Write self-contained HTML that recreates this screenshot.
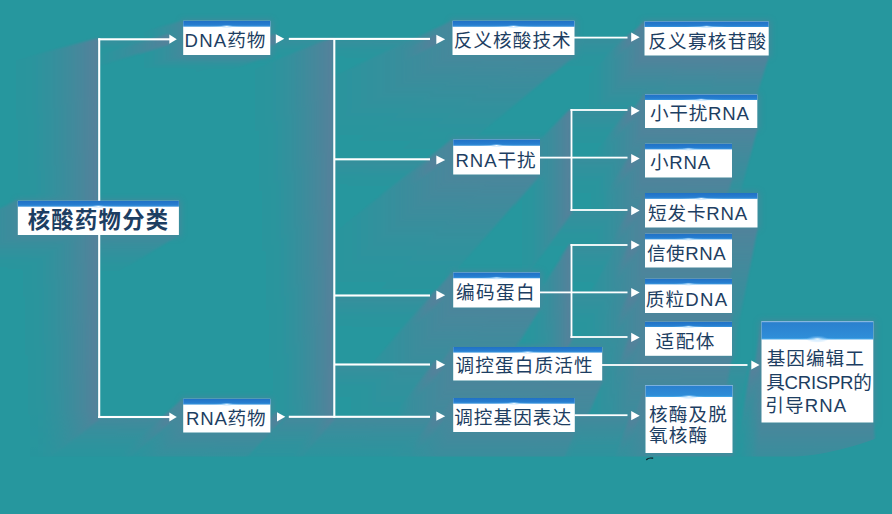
<!DOCTYPE html>
<html lang="zh-CN"><head><meta charset="utf-8"><title>核酸药物分类</title>
<style>
html,body{margin:0;padding:0}
body{width:892px;height:514px;overflow:hidden;background:#26979e;position:relative;font-family:"Liberation Sans",sans-serif}
#art{position:absolute;left:0;top:0;display:block}
.node{position:absolute;margin:0;overflow:hidden;color:transparent;white-space:nowrap;font-family:"Liberation Sans",sans-serif;font-size:18px;line-height:23px}
.node span{display:block}

</style></head><body>
<svg id="art" width="892" height="514" viewBox="0 0 892 514">
<defs>
<linearGradient id="sb35g18"><stop offset="0.0" stop-color="#595959"/><stop offset="0.1" stop-color="#4a4a4a"/><stop offset="0.2" stop-color="#3c3c3c"/><stop offset="0.3" stop-color="#2f2f2f"/><stop offset="0.4" stop-color="#242424"/><stop offset="0.5" stop-color="#1a1a1a"/><stop offset="0.6" stop-color="#111111"/><stop offset="0.7" stop-color="#0a0a0a"/><stop offset="0.8" stop-color="#050505"/><stop offset="0.9" stop-color="#010101"/><stop offset="1.0" stop-color="#000000"/></linearGradient>
<linearGradient id="sb50g13"><stop offset="0.0" stop-color="#808080"/><stop offset="0.1" stop-color="#6f6f6f"/><stop offset="0.2" stop-color="#5f5f5f"/><stop offset="0.3" stop-color="#505050"/><stop offset="0.4" stop-color="#424242"/><stop offset="0.5" stop-color="#343434"/><stop offset="0.6" stop-color="#272727"/><stop offset="0.7" stop-color="#1b1b1b"/><stop offset="0.8" stop-color="#101010"/><stop offset="0.9" stop-color="#060606"/><stop offset="1.0" stop-color="#000000"/></linearGradient>
<linearGradient id="sb55g13"><stop offset="0.0" stop-color="#8c8c8c"/><stop offset="0.1" stop-color="#7a7a7a"/><stop offset="0.2" stop-color="#696969"/><stop offset="0.3" stop-color="#585858"/><stop offset="0.4" stop-color="#484848"/><stop offset="0.5" stop-color="#393939"/><stop offset="0.6" stop-color="#2b2b2b"/><stop offset="0.7" stop-color="#1d1d1d"/><stop offset="0.8" stop-color="#111111"/><stop offset="0.9" stop-color="#070707"/><stop offset="1.0" stop-color="#000000"/></linearGradient>
<linearGradient id="sb60g13"><stop offset="0.0" stop-color="#999999"/><stop offset="0.1" stop-color="#858585"/><stop offset="0.2" stop-color="#727272"/><stop offset="0.3" stop-color="#606060"/><stop offset="0.4" stop-color="#4f4f4f"/><stop offset="0.5" stop-color="#3e3e3e"/><stop offset="0.6" stop-color="#2e2e2e"/><stop offset="0.7" stop-color="#202020"/><stop offset="0.8" stop-color="#131313"/><stop offset="0.9" stop-color="#080808"/><stop offset="1.0" stop-color="#000000"/></linearGradient>
<linearGradient id="sb60g18"><stop offset="0.0" stop-color="#999999"/><stop offset="0.1" stop-color="#7f7f7f"/><stop offset="0.2" stop-color="#666666"/><stop offset="0.3" stop-color="#515151"/><stop offset="0.4" stop-color="#3d3d3d"/><stop offset="0.5" stop-color="#2c2c2c"/><stop offset="0.6" stop-color="#1d1d1d"/><stop offset="0.7" stop-color="#121212"/><stop offset="0.8" stop-color="#080808"/><stop offset="0.9" stop-color="#020202"/><stop offset="1.0" stop-color="#000000"/></linearGradient>
<linearGradient id="sb70g13"><stop offset="0.0" stop-color="#b2b2b2"/><stop offset="0.1" stop-color="#9c9c9c"/><stop offset="0.2" stop-color="#868686"/><stop offset="0.3" stop-color="#707070"/><stop offset="0.4" stop-color="#5c5c5c"/><stop offset="0.5" stop-color="#484848"/><stop offset="0.6" stop-color="#363636"/><stop offset="0.7" stop-color="#252525"/><stop offset="0.8" stop-color="#161616"/><stop offset="0.9" stop-color="#090909"/><stop offset="1.0" stop-color="#000000"/></linearGradient>
<linearGradient id="sb75g13"><stop offset="0.0" stop-color="#bfbfbf"/><stop offset="0.1" stop-color="#a7a7a7"/><stop offset="0.2" stop-color="#8f8f8f"/><stop offset="0.3" stop-color="#787878"/><stop offset="0.4" stop-color="#626262"/><stop offset="0.5" stop-color="#4e4e4e"/><stop offset="0.6" stop-color="#3a3a3a"/><stop offset="0.7" stop-color="#282828"/><stop offset="0.8" stop-color="#181818"/><stop offset="0.9" stop-color="#0a0a0a"/><stop offset="1.0" stop-color="#000000"/></linearGradient>
<linearGradient id="sb80g13"><stop offset="0.0" stop-color="#cccccc"/><stop offset="0.1" stop-color="#b2b2b2"/><stop offset="0.2" stop-color="#999999"/><stop offset="0.3" stop-color="#808080"/><stop offset="0.4" stop-color="#696969"/><stop offset="0.5" stop-color="#535353"/><stop offset="0.6" stop-color="#3e3e3e"/><stop offset="0.7" stop-color="#2b2b2b"/><stop offset="0.8" stop-color="#191919"/><stop offset="0.9" stop-color="#0a0a0a"/><stop offset="1.0" stop-color="#000000"/></linearGradient>
<linearGradient id="sb85g13"><stop offset="0.0" stop-color="#d9d9d9"/><stop offset="0.1" stop-color="#bdbdbd"/><stop offset="0.2" stop-color="#a2a2a2"/><stop offset="0.3" stop-color="#888888"/><stop offset="0.4" stop-color="#707070"/><stop offset="0.5" stop-color="#585858"/><stop offset="0.6" stop-color="#424242"/><stop offset="0.7" stop-color="#2d2d2d"/><stop offset="0.8" stop-color="#1b1b1b"/><stop offset="0.9" stop-color="#0b0b0b"/><stop offset="1.0" stop-color="#000000"/></linearGradient>
<linearGradient id="sb90g18"><stop offset="0.0" stop-color="#e6e6e6"/><stop offset="0.1" stop-color="#bebebe"/><stop offset="0.2" stop-color="#9a9a9a"/><stop offset="0.3" stop-color="#797979"/><stop offset="0.4" stop-color="#5c5c5c"/><stop offset="0.5" stop-color="#424242"/><stop offset="0.6" stop-color="#2c2c2c"/><stop offset="0.7" stop-color="#1a1a1a"/><stop offset="0.8" stop-color="#0d0d0d"/><stop offset="0.9" stop-color="#040404"/><stop offset="1.0" stop-color="#000000"/></linearGradient>
<linearGradient id="sg0" gradientUnits="userSpaceOnUse" x1="44.6" y1="235.0" x2="44.6" y2="270.8" href="#sb50g13"/>
<linearGradient id="sg1" gradientUnits="userSpaceOnUse" x1="98.3" y1="235.0" x2="98.3" y2="272.8" href="#sb50g13"/>
<linearGradient id="sg2" gradientUnits="userSpaceOnUse" x1="152.1" y1="235.0" x2="152.1" y2="275.1" href="#sb50g13"/>
<linearGradient id="sg3" gradientUnits="userSpaceOnUse" x1="17.8" y1="217.9" x2="-54.8" y2="217.9" href="#sb50g13"/>
<linearGradient id="sg4" gradientUnits="userSpaceOnUse" x1="205.0" y1="55.0" x2="205.0" y2="69.5" href="#sb55g13"/>
<linearGradient id="sg5" gradientUnits="userSpaceOnUse" x1="248.5" y1="55.0" x2="248.5" y2="70.5" href="#sb55g13"/>
<linearGradient id="sg6" gradientUnits="userSpaceOnUse" x1="183.2" y1="37.9" x2="140.1" y2="37.9" href="#sb55g13"/>
<linearGradient id="sg7" gradientUnits="userSpaceOnUse" x1="205.0" y1="432.5" x2="205.0" y2="494.2" href="#sb70g13"/>
<linearGradient id="sg8" gradientUnits="userSpaceOnUse" x1="248.6" y1="432.5" x2="248.6" y2="496.5" href="#sb70g13"/>
<linearGradient id="sg9" gradientUnits="userSpaceOnUse" x1="183.2" y1="415.6" x2="115.7" y2="415.6" href="#sb70g13"/>
<linearGradient id="sg10" gradientUnits="userSpaceOnUse" x1="472.8" y1="55.0" x2="472.8" y2="141.8" href="#sb60g13"/>
<linearGradient id="sg11" gradientUnits="userSpaceOnUse" x1="513.5" y1="55.0" x2="513.5" y2="149.5" href="#sb60g13"/>
<linearGradient id="sg12" gradientUnits="userSpaceOnUse" x1="554.2" y1="55.0" x2="554.2" y2="158.3" href="#sb60g13"/>
<linearGradient id="sg13" gradientUnits="userSpaceOnUse" x1="452.5" y1="37.9" x2="301.5" y2="37.9" href="#sb60g13"/>
<linearGradient id="sg14" gradientUnits="userSpaceOnUse" x1="474.9" y1="174.5" x2="474.9" y2="290.2" href="#sb70g13"/>
<linearGradient id="sg15" gradientUnits="userSpaceOnUse" x1="518.3" y1="174.5" x2="518.3" y2="297.9" href="#sb70g13"/>
<linearGradient id="sg16" gradientUnits="userSpaceOnUse" x1="453.2" y1="157.0" x2="322.4" y2="157.0" href="#sb70g13"/>
<linearGradient id="sg17" gradientUnits="userSpaceOnUse" x1="474.9" y1="307.5" x2="474.9" y2="442.2" href="#sb70g13"/>
<linearGradient id="sg18" gradientUnits="userSpaceOnUse" x1="518.3" y1="307.5" x2="518.3" y2="448.2" href="#sb70g13"/>
<linearGradient id="sg19" gradientUnits="userSpaceOnUse" x1="453.2" y1="290.0" x2="343.2" y2="290.0" href="#sb70g13"/>
<linearGradient id="sg20" gradientUnits="userSpaceOnUse" x1="478.0" y1="380.5" x2="478.0" y2="522.4" href="#sb70g13"/>
<linearGradient id="sg21" gradientUnits="userSpaceOnUse" x1="527.7" y1="380.5" x2="527.7" y2="528.3" href="#sb70g13"/>
<linearGradient id="sg22" gradientUnits="userSpaceOnUse" x1="577.4" y1="380.5" x2="577.4" y2="534.0" href="#sb70g13"/>
<linearGradient id="sg23" gradientUnits="userSpaceOnUse" x1="453.2" y1="363.8" x2="353.1" y2="363.8" href="#sb70g13"/>
<linearGradient id="sg24" gradientUnits="userSpaceOnUse" x1="473.5" y1="432.0" x2="473.5" y2="577.1" href="#sb70g13"/>
<linearGradient id="sg25" gradientUnits="userSpaceOnUse" x1="514.0" y1="432.0" x2="514.0" y2="581.4" href="#sb70g13"/>
<linearGradient id="sg26" gradientUnits="userSpaceOnUse" x1="554.5" y1="432.0" x2="554.5" y2="585.6" href="#sb70g13"/>
<linearGradient id="sg27" gradientUnits="userSpaceOnUse" x1="453.2" y1="415.0" x2="359.2" y2="415.0" href="#sb70g13"/>
<linearGradient id="sg28" gradientUnits="userSpaceOnUse" x1="665.2" y1="55.5" x2="665.2" y2="122.3" href="#sb85g13"/>
<linearGradient id="sg29" gradientUnits="userSpaceOnUse" x1="706.6" y1="55.5" x2="706.6" y2="128.5" href="#sb85g13"/>
<linearGradient id="sg30" gradientUnits="userSpaceOnUse" x1="748.0" y1="55.5" x2="748.0" y2="134.3" href="#sb85g13"/>
<linearGradient id="sg31" gradientUnits="userSpaceOnUse" x1="644.5" y1="38.5" x2="585.6" y2="38.5" href="#sb85g13"/>
<linearGradient id="sg32" gradientUnits="userSpaceOnUse" x1="673.1" y1="128.0" x2="673.1" y2="215.2" href="#sb80g13"/>
<linearGradient id="sg33" gradientUnits="userSpaceOnUse" x1="729.2" y1="128.0" x2="729.2" y2="221.9" href="#sb80g13"/>
<linearGradient id="sg34" gradientUnits="userSpaceOnUse" x1="645.0" y1="111.2" x2="587.6" y2="111.2" href="#sb80g13"/>
<linearGradient id="sg35" gradientUnits="userSpaceOnUse" x1="666.8" y1="177.5" x2="666.8" y2="284.9" href="#sb80g13"/>
<linearGradient id="sg36" gradientUnits="userSpaceOnUse" x1="710.2" y1="177.5" x2="710.2" y2="290.1" href="#sb80g13"/>
<linearGradient id="sg37" gradientUnits="userSpaceOnUse" x1="645.0" y1="160.7" x2="583.8" y2="160.7" href="#sb80g13"/>
<linearGradient id="sg38" gradientUnits="userSpaceOnUse" x1="673.1" y1="227.5" x2="673.1" y2="365.9" href="#sb80g13"/>
<linearGradient id="sg39" gradientUnits="userSpaceOnUse" x1="729.4" y1="227.5" x2="729.4" y2="372.2" href="#sb80g13"/>
<linearGradient id="sg40" gradientUnits="userSpaceOnUse" x1="645.0" y1="210.2" x2="576.5" y2="210.2" href="#sb80g13"/>
<linearGradient id="sg41" gradientUnits="userSpaceOnUse" x1="666.8" y1="267.5" x2="666.8" y2="425.7" href="#sb75g13"/>
<linearGradient id="sg42" gradientUnits="userSpaceOnUse" x1="710.2" y1="267.5" x2="710.2" y2="430.7" href="#sb75g13"/>
<linearGradient id="sg43" gradientUnits="userSpaceOnUse" x1="645.0" y1="250.7" x2="573.6" y2="250.7" href="#sb75g13"/>
<linearGradient id="sg44" gradientUnits="userSpaceOnUse" x1="666.8" y1="313.0" x2="666.8" y2="473.2" href="#sb75g13"/>
<linearGradient id="sg45" gradientUnits="userSpaceOnUse" x1="710.2" y1="313.0" x2="710.2" y2="477.4" href="#sb75g13"/>
<linearGradient id="sg46" gradientUnits="userSpaceOnUse" x1="645.0" y1="295.9" x2="579.6" y2="295.9" href="#sb75g13"/>
<linearGradient id="sg47" gradientUnits="userSpaceOnUse" x1="666.8" y1="355.8" x2="666.8" y2="517.4" href="#sb75g13"/>
<linearGradient id="sg48" gradientUnits="userSpaceOnUse" x1="710.2" y1="355.8" x2="710.2" y2="521.0" href="#sb75g13"/>
<linearGradient id="sg49" gradientUnits="userSpaceOnUse" x1="645.0" y1="338.8" x2="584.5" y2="338.8" href="#sb75g13"/>
<linearGradient id="sg50" gradientUnits="userSpaceOnUse" x1="667.2" y1="453.0" x2="667.2" y2="617.0" href="#sb75g13"/>
<linearGradient id="sg51" gradientUnits="userSpaceOnUse" x1="710.8" y1="453.0" x2="710.8" y2="619.6" href="#sb75g13"/>
<linearGradient id="sg52" gradientUnits="userSpaceOnUse" x1="645.5" y1="402.0" x2="591.2" y2="402.0" href="#sb75g13"/>
<linearGradient id="sg53" gradientUnits="userSpaceOnUse" x1="645.5" y1="436.0" x2="594.0" y2="436.0" href="#sb75g13"/>
<linearGradient id="sg54" gradientUnits="userSpaceOnUse" x1="789.5" y1="422.5" x2="789.5" y2="592.0" href="#sb75g13"/>
<linearGradient id="sg55" gradientUnits="userSpaceOnUse" x1="845.3" y1="422.5" x2="845.3" y2="592.5" href="#sb75g13"/>
<linearGradient id="sg56" gradientUnits="userSpaceOnUse" x1="761.5" y1="346.6" x2="737.1" y2="346.6" href="#sb75g13"/>
<linearGradient id="sg57" gradientUnits="userSpaceOnUse" x1="761.5" y1="397.2" x2="739.3" y2="397.2" href="#sb75g13"/>
<linearGradient id="sg58" gradientUnits="userSpaceOnUse" x1="99.2" y1="418.0" x2="99.2" y2="478.5" href="#sb90g18"/>
<linearGradient id="sg59" gradientUnits="userSpaceOnUse" x1="98.2" y1="65.4" x2="4.4" y2="65.4" href="#sb90g18"/>
<linearGradient id="sg60" gradientUnits="userSpaceOnUse" x1="98.2" y1="119.7" x2="6.5" y2="119.7" href="#sb90g18"/>
<linearGradient id="sg61" gradientUnits="userSpaceOnUse" x1="98.2" y1="173.9" x2="8.9" y2="173.9" href="#sb90g18"/>
<linearGradient id="sg62" gradientUnits="userSpaceOnUse" x1="98.2" y1="228.1" x2="11.4" y2="228.1" href="#sb90g18"/>
<linearGradient id="sg63" gradientUnits="userSpaceOnUse" x1="98.2" y1="282.4" x2="14.1" y2="282.4" href="#sb90g18"/>
<linearGradient id="sg64" gradientUnits="userSpaceOnUse" x1="98.2" y1="336.6" x2="16.9" y2="336.6" href="#sb90g18"/>
<linearGradient id="sg65" gradientUnits="userSpaceOnUse" x1="98.2" y1="390.9" x2="19.7" y2="390.9" href="#sb90g18"/>
<linearGradient id="sg66" gradientUnits="userSpaceOnUse" x1="116.3" y1="40.3" x2="116.3" y2="55.1" href="#sb35g18"/>
<linearGradient id="sg67" gradientUnits="userSpaceOnUse" x1="152.4" y1="40.3" x2="152.4" y2="55.8" href="#sb35g18"/>
<linearGradient id="sg68" gradientUnits="userSpaceOnUse" x1="98.2" y1="39.3" x2="45.1" y2="39.3" href="#sb35g18"/>
<linearGradient id="sg69" gradientUnits="userSpaceOnUse" x1="116.3" y1="418.1" x2="116.3" y2="477.6" href="#sb60g18"/>
<linearGradient id="sg70" gradientUnits="userSpaceOnUse" x1="152.4" y1="418.1" x2="152.4" y2="479.4" href="#sb60g18"/>
<linearGradient id="sg71" gradientUnits="userSpaceOnUse" x1="98.2" y1="417.0" x2="23.4" y2="417.0" href="#sb60g18"/>
<linearGradient id="sg72" gradientUnits="userSpaceOnUse" x1="312.3" y1="39.9" x2="312.3" y2="59.6" href="#sb35g18"/>
<linearGradient id="sg73" gradientUnits="userSpaceOnUse" x1="359.4" y1="39.9" x2="359.4" y2="61.3" href="#sb35g18"/>
<linearGradient id="sg74" gradientUnits="userSpaceOnUse" x1="406.5" y1="39.9" x2="406.5" y2="63.2" href="#sb35g18"/>
<linearGradient id="sg75" gradientUnits="userSpaceOnUse" x1="288.8" y1="38.9" x2="237.1" y2="38.9" href="#sb35g18"/>
<linearGradient id="sg76" gradientUnits="userSpaceOnUse" x1="312.3" y1="417.9" x2="312.3" y2="488.3" href="#sb60g18"/>
<linearGradient id="sg77" gradientUnits="userSpaceOnUse" x1="359.4" y1="417.9" x2="359.4" y2="491.2" href="#sb60g18"/>
<linearGradient id="sg78" gradientUnits="userSpaceOnUse" x1="406.5" y1="417.9" x2="406.5" y2="494.2" href="#sb60g18"/>
<linearGradient id="sg79" gradientUnits="userSpaceOnUse" x1="288.8" y1="416.8" x2="223.5" y2="416.8" href="#sb60g18"/>
<linearGradient id="sg80" gradientUnits="userSpaceOnUse" x1="334.3" y1="417.8" x2="334.3" y2="491.9" href="#sb90g18"/>
<linearGradient id="sg81" gradientUnits="userSpaceOnUse" x1="333.2" y1="65.1" x2="243.8" y2="65.1" href="#sb90g18"/>
<linearGradient id="sg82" gradientUnits="userSpaceOnUse" x1="333.2" y1="119.4" x2="247.6" y2="119.4" href="#sb90g18"/>
<linearGradient id="sg83" gradientUnits="userSpaceOnUse" x1="333.2" y1="173.6" x2="251.6" y2="173.6" href="#sb90g18"/>
<linearGradient id="sg84" gradientUnits="userSpaceOnUse" x1="333.2" y1="227.9" x2="255.7" y2="227.9" href="#sb90g18"/>
<linearGradient id="sg85" gradientUnits="userSpaceOnUse" x1="333.2" y1="282.2" x2="259.7" y2="282.2" href="#sb90g18"/>
<linearGradient id="sg86" gradientUnits="userSpaceOnUse" x1="333.2" y1="336.4" x2="263.6" y2="336.4" href="#sb90g18"/>
<linearGradient id="sg87" gradientUnits="userSpaceOnUse" x1="333.2" y1="390.7" x2="267.2" y2="390.7" href="#sb90g18"/>
<linearGradient id="sg88" gradientUnits="userSpaceOnUse" x1="358.2" y1="160.4" x2="358.2" y2="191.0" href="#sb35g18"/>
<linearGradient id="sg89" gradientUnits="userSpaceOnUse" x1="406.1" y1="160.4" x2="406.1" y2="193.3" href="#sb35g18"/>
<linearGradient id="sg90" gradientUnits="userSpaceOnUse" x1="334.3" y1="159.3" x2="287.9" y2="159.3" href="#sb35g18"/>
<linearGradient id="sg91" gradientUnits="userSpaceOnUse" x1="358.2" y1="296.6" x2="358.2" y2="334.6" href="#sb35g18"/>
<linearGradient id="sg92" gradientUnits="userSpaceOnUse" x1="406.1" y1="296.6" x2="406.1" y2="336.6" href="#sb35g18"/>
<linearGradient id="sg93" gradientUnits="userSpaceOnUse" x1="334.3" y1="295.5" x2="293.6" y2="295.5" href="#sb35g18"/>
<linearGradient id="sg94" gradientUnits="userSpaceOnUse" x1="358.2" y1="365.6" x2="358.2" y2="406.3" href="#sb35g18"/>
<linearGradient id="sg95" gradientUnits="userSpaceOnUse" x1="406.1" y1="365.6" x2="406.1" y2="408.2" href="#sb35g18"/>
<linearGradient id="sg96" gradientUnits="userSpaceOnUse" x1="334.3" y1="364.5" x2="296.3" y2="364.5" href="#sb35g18"/>
<linearGradient id="sg97" gradientUnits="userSpaceOnUse" x1="600.8" y1="38.5" x2="600.8" y2="74.1" href="#sb35g18"/>
<linearGradient id="sg98" gradientUnits="userSpaceOnUse" x1="574.0" y1="37.6" x2="530.1" y2="37.6" href="#sb35g18"/>
<linearGradient id="sg99" gradientUnits="userSpaceOnUse" x1="561.9" y1="158.5" x2="561.9" y2="200.3" href="#sb35g18"/>
<linearGradient id="sg100" gradientUnits="userSpaceOnUse" x1="605.6" y1="158.5" x2="605.6" y2="203.1" href="#sb35g18"/>
<linearGradient id="sg101" gradientUnits="userSpaceOnUse" x1="540.0" y1="157.6" x2="502.6" y2="157.6" href="#sb35g18"/>
<linearGradient id="sg102" gradientUnits="userSpaceOnUse" x1="571.5" y1="211.0" x2="571.5" y2="288.9" href="#sb90g18"/>
<linearGradient id="sg103" gradientUnits="userSpaceOnUse" x1="570.6" y1="134.5" x2="515.1" y2="134.5" href="#sb90g18"/>
<linearGradient id="sg104" gradientUnits="userSpaceOnUse" x1="570.6" y1="185.5" x2="515.1" y2="185.5" href="#sb90g18"/>
<linearGradient id="sg105" gradientUnits="userSpaceOnUse" x1="599.0" y1="110.9" x2="599.0" y2="152.4" href="#sb35g18"/>
<linearGradient id="sg106" gradientUnits="userSpaceOnUse" x1="570.5" y1="110.0" x2="532.0" y2="110.0" href="#sb35g18"/>
<linearGradient id="sg107" gradientUnits="userSpaceOnUse" x1="599.0" y1="210.9" x2="599.0" y2="257.3" href="#sb35g18"/>
<linearGradient id="sg108" gradientUnits="userSpaceOnUse" x1="570.5" y1="210.0" x2="538.5" y2="210.0" href="#sb35g18"/>
<linearGradient id="sg109" gradientUnits="userSpaceOnUse" x1="561.9" y1="293.3" x2="561.9" y2="340.4" href="#sb35g18"/>
<linearGradient id="sg110" gradientUnits="userSpaceOnUse" x1="605.6" y1="293.3" x2="605.6" y2="342.4" href="#sb35g18"/>
<linearGradient id="sg111" gradientUnits="userSpaceOnUse" x1="540.0" y1="292.4" x2="510.0" y2="292.4" href="#sb35g18"/>
<linearGradient id="sg112" gradientUnits="userSpaceOnUse" x1="571.5" y1="338.0" x2="571.5" y2="424.6" href="#sb90g18"/>
<linearGradient id="sg113" gradientUnits="userSpaceOnUse" x1="570.6" y1="267.5" x2="519.1" y2="267.5" href="#sb90g18"/>
<linearGradient id="sg114" gradientUnits="userSpaceOnUse" x1="570.6" y1="314.5" x2="522.9" y2="314.5" href="#sb90g18"/>
<linearGradient id="sg115" gradientUnits="userSpaceOnUse" x1="599.0" y1="245.9" x2="599.0" y2="293.4" href="#sb35g18"/>
<linearGradient id="sg116" gradientUnits="userSpaceOnUse" x1="570.5" y1="245.0" x2="540.4" y2="245.0" href="#sb35g18"/>
<linearGradient id="sg117" gradientUnits="userSpaceOnUse" x1="599.0" y1="337.9" x2="599.0" y2="387.6" href="#sb35g18"/>
<linearGradient id="sg118" gradientUnits="userSpaceOnUse" x1="570.5" y1="337.0" x2="544.7" y2="337.0" href="#sb35g18"/>
<linearGradient id="sg119" gradientUnits="userSpaceOnUse" x1="626.2" y1="365.9" x2="626.2" y2="417.0" href="#sb35g18"/>
<linearGradient id="sg120" gradientUnits="userSpaceOnUse" x1="674.8" y1="365.9" x2="674.8" y2="418.5" href="#sb35g18"/>
<linearGradient id="sg121" gradientUnits="userSpaceOnUse" x1="723.2" y1="365.9" x2="723.2" y2="419.7" href="#sb35g18"/>
<linearGradient id="sg122" gradientUnits="userSpaceOnUse" x1="602.0" y1="365.0" x2="579.7" y2="365.0" href="#sb35g18"/>
<linearGradient id="sg123" gradientUnits="userSpaceOnUse" x1="601.0" y1="416.1" x2="601.0" y2="504.1" href="#sb60g18"/>
<linearGradient id="sg124" gradientUnits="userSpaceOnUse" x1="574.5" y1="415.2" x2="535.3" y2="415.2" href="#sb60g18"/>
<linearGradient id="sg125" gradientUnits="userSpaceOnUse" x1="169.3" y1="39.2" x2="75.4" y2="39.2" href="#sb90g18"/>
<linearGradient id="sg126" gradientUnits="userSpaceOnUse" x1="173.1" y1="419.3" x2="181.7" y2="433.3" href="#sb90g18"/>
<linearGradient id="sg127" gradientUnits="userSpaceOnUse" x1="169.3" y1="417.0" x2="95.2" y2="417.0" href="#sb90g18"/>
<linearGradient id="sg128" gradientUnits="userSpaceOnUse" x1="275.8" y1="38.8" x2="183.5" y2="38.8" href="#sb90g18"/>
<linearGradient id="sg129" gradientUnits="userSpaceOnUse" x1="281.1" y1="419.1" x2="295.3" y2="444.6" href="#sb90g18"/>
<linearGradient id="sg130" gradientUnits="userSpaceOnUse" x1="277.0" y1="416.8" x2="208.9" y2="416.8" href="#sb90g18"/>
<linearGradient id="sg131" gradientUnits="userSpaceOnUse" x1="436.3" y1="39.3" x2="352.6" y2="39.3" href="#sb90g18"/>
<linearGradient id="sg132" gradientUnits="userSpaceOnUse" x1="440.8" y1="162.3" x2="450.1" y2="180.3" href="#sb90g18"/>
<linearGradient id="sg133" gradientUnits="userSpaceOnUse" x1="436.3" y1="160.0" x2="359.9" y2="160.0" href="#sb90g18"/>
<linearGradient id="sg134" gradientUnits="userSpaceOnUse" x1="440.8" y1="297.5" x2="457.5" y2="330.0" href="#sb90g18"/>
<linearGradient id="sg135" gradientUnits="userSpaceOnUse" x1="436.3" y1="295.2" x2="371.7" y2="295.2" href="#sb90g18"/>
<linearGradient id="sg136" gradientUnits="userSpaceOnUse" x1="440.8" y1="367.0" x2="460.4" y2="405.0" href="#sb90g18"/>
<linearGradient id="sg137" gradientUnits="userSpaceOnUse" x1="436.3" y1="364.7" x2="377.0" y2="364.7" href="#sb90g18"/>
<linearGradient id="sg138" gradientUnits="userSpaceOnUse" x1="440.8" y1="418.5" x2="462.1" y2="459.9" href="#sb90g18"/>
<linearGradient id="sg139" gradientUnits="userSpaceOnUse" x1="436.3" y1="416.2" x2="380.5" y2="416.2" href="#sb90g18"/>
<linearGradient id="sg140" gradientUnits="userSpaceOnUse" x1="635.5" y1="39.5" x2="643.5" y2="54.4" href="#sb90g18"/>
<linearGradient id="sg141" gradientUnits="userSpaceOnUse" x1="631.2" y1="37.2" x2="588.4" y2="37.2" href="#sb90g18"/>
<linearGradient id="sg142" gradientUnits="userSpaceOnUse" x1="635.5" y1="113.1" x2="650.0" y2="139.9" href="#sb90g18"/>
<linearGradient id="sg143" gradientUnits="userSpaceOnUse" x1="631.2" y1="110.8" x2="588.4" y2="110.8" href="#sb90g18"/>
<linearGradient id="sg144" gradientUnits="userSpaceOnUse" x1="635.5" y1="160.9" x2="654.2" y2="195.5" href="#sb90g18"/>
<linearGradient id="sg145" gradientUnits="userSpaceOnUse" x1="631.2" y1="158.6" x2="588.4" y2="158.6" href="#sb90g18"/>
<linearGradient id="sg146" gradientUnits="userSpaceOnUse" x1="635.5" y1="212.9" x2="658.7" y2="255.9" href="#sb90g18"/>
<linearGradient id="sg147" gradientUnits="userSpaceOnUse" x1="631.2" y1="210.6" x2="588.4" y2="210.6" href="#sb90g18"/>
<linearGradient id="sg148" gradientUnits="userSpaceOnUse" x1="635.5" y1="247.3" x2="661.8" y2="295.9" href="#sb90g18"/>
<linearGradient id="sg149" gradientUnits="userSpaceOnUse" x1="631.2" y1="245.0" x2="588.4" y2="245.0" href="#sb90g18"/>
<linearGradient id="sg150" gradientUnits="userSpaceOnUse" x1="635.5" y1="294.8" x2="664.1" y2="347.7" href="#sb90g18"/>
<linearGradient id="sg151" gradientUnits="userSpaceOnUse" x1="631.2" y1="292.5" x2="591.0" y2="292.5" href="#sb90g18"/>
<linearGradient id="sg152" gradientUnits="userSpaceOnUse" x1="635.5" y1="339.7" x2="665.3" y2="394.9" href="#sb90g18"/>
<linearGradient id="sg153" gradientUnits="userSpaceOnUse" x1="631.2" y1="337.4" x2="594.0" y2="337.4" href="#sb90g18"/>
<linearGradient id="sg154" gradientUnits="userSpaceOnUse" x1="635.5" y1="418.0" x2="667.0" y2="476.3" href="#sb90g18"/>
<linearGradient id="sg155" gradientUnits="userSpaceOnUse" x1="631.2" y1="415.7" x2="598.5" y2="415.7" href="#sb90g18"/>
<linearGradient id="sg156" gradientUnits="userSpaceOnUse" x1="755.4" y1="367.3" x2="793.2" y2="434.8" href="#sb90g18"/>
<linearGradient id="sg157" gradientUnits="userSpaceOnUse" x1="751.3" y1="365.0" x2="735.9" y2="365.0" href="#sb90g18"/>
<linearGradient id="bars" x1="0" y1="0" x2="0" y2="1"><stop offset="0" stop-color="#2071c6"/><stop offset="1" stop-color="#2a83d3"/></linearGradient>
<linearGradient id="bar" x1="0" y1="0" x2="0" y2="1"><stop offset="0" stop-color="#2a7fce"/><stop offset="1" stop-color="#2f8fd9"/></linearGradient>
<radialGradient id="flare"><stop offset="0" stop-color="#fff" stop-opacity="0.95"/><stop offset="0.35" stop-color="#bfe4ff" stop-opacity="0.55"/><stop offset="1" stop-color="#7cc4ff" stop-opacity="0"/></radialGradient>
<linearGradient id="botfade" x1="0" y1="0" x2="0" y2="1"><stop offset="0" stop-color="#000" stop-opacity="0"/><stop offset="1" stop-color="#000" stop-opacity="0.35"/></linearGradient>
<filter id="halo" filterUnits="userSpaceOnUse" x="-20" y="-20" width="940" height="560"><feGaussianBlur stdDeviation="3"/></filter>
<filter id="shblur" filterUnits="userSpaceOnUse" x="-20" y="-20" width="940" height="560"><feGaussianBlur stdDeviation="1.3"/></filter>
<clipPath id="shclip"><path d="M0 0H892V432C860 446 820 456.5 790 456.5H0Z"/></clipPath>
<mask id="shm" maskUnits="userSpaceOnUse" x="0" y="0" width="892" height="514" style="mask-type:luminance">
<rect width="892" height="514" fill="#000"/>
<g clip-path="url(#shclip)" style="isolation:isolate"><g filter="url(#shblur)"><g style="isolation:isolate" class="shg">
<polygon points="17.4,235.0 71.9,235.0 0.9,271.8 -54.6,269.8" fill="url(#sg0)"/>
<polygon points="71.1,235.0 125.6,235.0 55.7,273.9 0.0,271.7" fill="url(#sg1)"/>
<polygon points="124.8,235.0 179.3,235.0 110.8,276.3 54.9,273.9" fill="url(#sg2)"/>
<polygon points="17.8,200.4 17.8,235.4 -54.2,270.2 -55.4,232.7" fill="url(#sg3)"/>
<polygon points="182.8,55.0 227.2,55.0 184.7,70.0 140.1,69.1" fill="url(#sg4)"/>
<polygon points="226.3,55.0 270.7,55.0 228.6,71.0 183.9,70.0" fill="url(#sg5)"/>
<polygon points="183.2,20.4 183.2,55.4 140.5,69.5 139.8,32.4" fill="url(#sg6)"/>
<polygon points="182.8,432.5 227.2,432.5 162.8,495.3 116.2,493.0" fill="url(#sg7)"/>
<polygon points="226.4,432.5 270.8,432.5 208.7,497.7 161.9,495.3" fill="url(#sg8)"/>
<polygon points="183.2,398.4 183.2,432.9 116.6,493.5 114.9,457.0" fill="url(#sg9)"/>
<polygon points="452.1,55.0 493.6,55.0 349.7,145.6 303.9,138.2" fill="url(#sg10)"/>
<polygon points="492.8,55.0 534.2,55.0 395.9,153.9 348.8,145.4" fill="url(#sg11)"/>
<polygon points="533.4,55.0 574.9,55.0 443.9,163.3 395.0,153.7" fill="url(#sg12)"/>
<polygon points="452.5,20.4 452.5,55.4 304.4,138.8 298.7,92.9" fill="url(#sg13)"/>
<polygon points="452.8,174.5 497.0,174.5 376.2,294.1 324.9,286.5" fill="url(#sg14)"/>
<polygon points="496.2,174.5 540.4,174.5 428.0,302.1 375.2,293.9" fill="url(#sg15)"/>
<polygon points="453.2,139.1 453.2,174.9 325.4,287.0 319.4,243.9" fill="url(#sg16)"/>
<polygon points="452.8,307.5 497.0,307.5 397.4,445.3 345.2,439.1" fill="url(#sg17)"/>
<polygon points="496.2,307.5 540.4,307.5 449.8,451.3 396.4,445.2" fill="url(#sg18)"/>
<polygon points="453.2,272.1 453.2,307.9 345.7,439.6 340.6,399.5" fill="url(#sg19)"/>
<polygon points="452.8,380.5 503.3,380.5 414.3,525.4 354.6,519.3" fill="url(#sg20)"/>
<polygon points="502.5,380.5 552.9,380.5 474.3,531.2 413.4,525.3" fill="url(#sg21)"/>
<polygon points="552.1,380.5 602.6,380.5 535.4,536.7 473.3,531.1" fill="url(#sg22)"/>
<polygon points="453.2,346.6 453.2,380.9 355.2,519.8 350.9,482.4" fill="url(#sg23)"/>
<polygon points="452.8,432.0 494.1,432.0 409.3,579.3 360.6,574.8" fill="url(#sg24)"/>
<polygon points="493.3,432.0 534.7,432.0 457.8,583.6 408.4,579.2" fill="url(#sg25)"/>
<polygon points="533.9,432.0 575.2,432.0 506.9,587.7 456.8,583.5" fill="url(#sg26)"/>
<polygon points="453.2,397.6 453.2,432.4 361.1,575.3 357.2,537.9" fill="url(#sg27)"/>
<polygon points="644.1,55.5 686.3,55.5 638.0,125.5 587.7,119.1" fill="url(#sg28)"/>
<polygon points="685.5,55.5 727.7,55.5 689.8,131.6 637.0,125.3" fill="url(#sg29)"/>
<polygon points="726.9,55.5 769.1,55.5 744.2,136.8 688.8,131.5" fill="url(#sg30)"/>
<polygon points="644.5,21.1 644.5,55.9 588.3,119.6 582.9,79.7" fill="url(#sg31)"/>
<polygon points="644.6,128.0 701.5,128.0 659.5,218.7 589.5,211.4" fill="url(#sg32)"/>
<polygon points="700.8,128.0 757.7,128.0 731.8,224.6 658.5,218.6" fill="url(#sg33)"/>
<polygon points="645.0,94.1 645.0,128.4 590.0,211.9 585.1,174.2" fill="url(#sg34)"/>
<polygon points="644.6,177.5 688.9,177.5 641.2,287.6 585.6,282.0" fill="url(#sg35)"/>
<polygon points="688.1,177.5 732.4,177.5 697.5,292.3 640.2,287.5" fill="url(#sg36)"/>
<polygon points="645.0,143.4 645.0,177.9 586.2,282.5 581.3,245.1" fill="url(#sg37)"/>
<polygon points="644.6,227.5 701.6,227.5 652.8,369.3 578.5,362.1" fill="url(#sg38)"/>
<polygon points="700.9,227.5 757.9,227.5 728.6,374.6 651.8,369.2" fill="url(#sg39)"/>
<polygon points="645.0,192.6 645.0,227.9 579.0,362.6 573.8,324.6" fill="url(#sg40)"/>
<polygon points="644.6,267.5 688.9,267.5 633.9,428.4 575.4,422.8" fill="url(#sg41)"/>
<polygon points="688.1,267.5 732.4,267.5 692.7,432.8 632.9,428.3" fill="url(#sg42)"/>
<polygon points="645.0,233.4 645.0,267.9 576.0,423.3 571.1,386.5" fill="url(#sg43)"/>
<polygon points="644.6,313.0 688.9,313.0 638.7,475.4 581.1,470.7" fill="url(#sg44)"/>
<polygon points="688.1,313.0 732.4,313.0 696.4,479.1 637.7,475.4" fill="url(#sg45)"/>
<polygon points="645.0,278.4 645.0,313.4 581.7,471.2 577.4,434.4" fill="url(#sg46)"/>
<polygon points="644.6,355.8 688.9,355.8 642.6,519.4 585.7,515.3" fill="url(#sg47)"/>
<polygon points="688.1,355.8 732.4,355.8 699.2,522.5 641.5,519.3" fill="url(#sg48)"/>
<polygon points="645.0,321.4 645.0,356.2 586.3,515.7 582.6,479.5" fill="url(#sg49)"/>
<polygon points="645.1,453.0 689.4,453.0 650.1,618.4 594.8,615.4" fill="url(#sg50)"/>
<polygon points="688.6,453.0 732.9,453.0 705.0,620.7 649.1,618.3" fill="url(#sg51)"/>
<polygon points="645.5,384.6 645.5,419.4 592.7,581.0 589.6,545.2" fill="url(#sg52)"/>
<polygon points="645.5,418.6 645.5,453.4 595.3,615.8 592.6,580.2" fill="url(#sg53)"/>
<polygon points="761.1,422.5 817.8,422.5 812.8,592.4 739.7,591.1" fill="url(#sg54)"/>
<polygon points="817.0,422.5 873.7,422.5 885.0,592.1 811.7,592.4" fill="url(#sg55)"/>
<polygon points="761.5,320.9 761.5,372.3 738.2,540.7 735.8,488.9" fill="url(#sg56)"/>
<polygon points="761.5,371.5 761.5,422.9 740.2,591.6 738.2,539.9" fill="url(#sg57)"/>
<polygon points="97.8,418.0 100.7,418.0 23.6,478.6 20.6,478.5" fill="url(#sg58)"/>
<polygon points="98.2,37.9 98.2,92.9 5.5,124.8 3.5,63.3" fill="url(#sg59)"/>
<polygon points="98.2,92.1 98.2,147.2 7.7,184.9 5.4,123.9" fill="url(#sg60)"/>
<polygon points="98.2,146.4 98.2,201.4 10.2,244.6 7.7,184.0" fill="url(#sg61)"/>
<polygon points="98.2,200.6 98.2,255.7 12.8,303.8 10.1,243.7" fill="url(#sg62)"/>
<polygon points="98.2,254.9 98.2,309.9 15.5,362.6 12.8,303.0" fill="url(#sg63)"/>
<polygon points="98.2,309.1 98.2,364.2 18.3,421.0 15.5,361.7" fill="url(#sg64)"/>
<polygon points="98.2,363.4 98.2,418.4 21.1,478.9 18.3,420.1" fill="url(#sg65)"/>
<polygon points="97.8,40.3 134.8,40.3 81.9,55.5 44.7,54.8" fill="url(#sg66)"/>
<polygon points="133.9,40.3 170.9,40.3 118.2,56.2 81.1,55.5" fill="url(#sg67)"/>
<polygon points="98.2,37.9 98.2,40.7 45.1,55.2 45.1,52.1" fill="url(#sg68)"/>
<polygon points="97.8,418.1 134.8,418.1 61.5,478.5 23.0,476.7" fill="url(#sg69)"/>
<polygon points="133.9,418.1 170.9,418.1 99.2,480.4 60.7,478.5" fill="url(#sg70)"/>
<polygon points="98.2,415.6 98.2,418.4 23.5,477.1 23.3,474.0" fill="url(#sg71)"/>
<polygon points="288.4,39.9 336.3,39.9 285.2,60.4 236.7,58.8" fill="url(#sg72)"/>
<polygon points="335.5,39.9 383.3,39.9 333.0,62.2 284.4,60.4" fill="url(#sg73)"/>
<polygon points="382.5,39.9 430.4,39.9 381.1,64.3 332.2,62.2" fill="url(#sg74)"/>
<polygon points="288.8,37.5 288.8,40.3 237.2,59.3 237.1,56.1" fill="url(#sg75)"/>
<polygon points="288.4,417.9 336.3,417.9 274.2,489.8 223.1,486.9" fill="url(#sg76)"/>
<polygon points="335.5,417.9 383.3,417.9 324.8,492.7 273.3,489.7" fill="url(#sg77)"/>
<polygon points="382.5,417.9 430.4,417.9 375.9,495.7 324.0,492.6" fill="url(#sg78)"/>
<polygon points="288.8,415.4 288.8,418.2 223.6,487.3 223.4,484.2" fill="url(#sg79)"/>
<polygon points="332.9,417.8 335.8,417.8 271.7,492.0 268.6,491.8" fill="url(#sg80)"/>
<polygon points="333.2,37.6 333.2,92.7 245.7,136.7 242.1,73.5" fill="url(#sg81)"/>
<polygon points="333.2,91.9 333.2,146.9 249.6,198.1 245.7,135.8" fill="url(#sg82)"/>
<polygon points="333.2,146.1 333.2,201.2 253.7,258.4 249.6,197.2" fill="url(#sg83)"/>
<polygon points="333.2,200.4 333.2,255.4 257.8,317.9 253.7,257.5" fill="url(#sg84)"/>
<polygon points="333.2,254.6 333.2,309.7 261.7,376.7 257.7,317.1" fill="url(#sg85)"/>
<polygon points="333.2,308.9 333.2,363.9 265.5,434.7 261.6,375.8" fill="url(#sg86)"/>
<polygon points="333.2,363.1 333.2,418.2 269.0,492.2 265.4,433.9" fill="url(#sg87)"/>
<polygon points="333.9,160.4 382.5,160.4 337.7,192.1 287.6,190.0" fill="url(#sg88)"/>
<polygon points="381.8,160.4 430.4,160.4 387.3,194.5 336.8,192.1" fill="url(#sg89)"/>
<polygon points="334.3,157.8 334.3,160.8 288.0,190.4 287.9,187.3" fill="url(#sg90)"/>
<polygon points="333.9,296.6 382.5,296.6 343.8,335.6 293.2,333.6" fill="url(#sg91)"/>
<polygon points="381.8,296.6 430.4,296.6 393.9,337.7 343.0,335.6" fill="url(#sg92)"/>
<polygon points="334.3,294.1 334.3,296.9 293.7,334.0 293.6,331.0" fill="url(#sg93)"/>
<polygon points="333.9,365.6 382.5,365.6 346.7,407.2 295.9,405.4" fill="url(#sg94)"/>
<polygon points="381.8,365.6 430.4,365.6 396.8,409.1 345.8,407.2" fill="url(#sg95)"/>
<polygon points="334.3,363.1 334.3,365.9 296.4,405.8 296.3,402.8" fill="url(#sg96)"/>
<polygon points="573.6,38.5 627.9,38.5 588.2,76.6 529.8,71.8" fill="url(#sg97)"/>
<polygon points="574.0,36.3 574.0,38.9 530.3,72.2 530.0,69.4" fill="url(#sg98)"/>
<polygon points="539.6,158.5 584.1,158.5 550.1,201.7 502.2,198.8" fill="url(#sg99)"/>
<polygon points="583.4,158.5 627.9,158.5 597.9,204.6 549.3,201.7" fill="url(#sg100)"/>
<polygon points="540.0,156.3 540.0,158.9 502.7,199.3 502.5,196.5" fill="url(#sg101)"/>
<polygon points="570.2,211.0 572.8,211.0 517.7,288.9 514.6,288.9" fill="url(#sg102)"/>
<polygon points="570.6,108.6 570.6,160.4 515.1,227.7 515.1,165.0" fill="url(#sg103)"/>
<polygon points="570.6,159.6 570.6,211.4 515.1,289.4 515.1,226.7" fill="url(#sg104)"/>
<polygon points="570.1,110.9 627.9,110.9 594.5,154.6 531.6,150.2" fill="url(#sg105)"/>
<polygon points="570.5,108.7 570.5,111.3 532.1,150.7 531.9,147.9" fill="url(#sg106)"/>
<polygon points="570.1,210.9 627.9,210.9 601.1,258.9 538.1,255.7" fill="url(#sg107)"/>
<polygon points="570.5,208.7 570.5,211.3 538.6,256.1 538.4,253.4" fill="url(#sg108)"/>
<polygon points="539.6,293.3 584.1,293.3 557.5,341.4 509.6,339.4" fill="url(#sg109)"/>
<polygon points="583.4,293.3 627.9,293.3 605.0,343.3 556.7,341.4" fill="url(#sg110)"/>
<polygon points="540.0,291.1 540.0,293.7 510.0,339.8 509.9,337.1" fill="url(#sg111)"/>
<polygon points="570.2,338.0 572.8,338.0 527.1,424.7 524.2,424.5" fill="url(#sg112)"/>
<polygon points="570.6,243.6 570.6,291.4 521.1,376.0 516.9,325.6" fill="url(#sg113)"/>
<polygon points="570.6,290.6 570.6,338.4 524.7,425.0 521.0,375.1" fill="url(#sg114)"/>
<polygon points="570.1,245.9 627.9,245.9 602.9,294.9 540.0,292.0" fill="url(#sg115)"/>
<polygon points="570.5,243.7 570.5,246.3 540.5,292.4 540.4,289.7" fill="url(#sg116)"/>
<polygon points="570.1,337.9 627.9,337.9 606.8,388.7 544.3,386.5" fill="url(#sg117)"/>
<polygon points="570.5,335.7 570.5,338.3 544.7,386.9 544.6,384.2" fill="url(#sg118)"/>
<polygon points="601.6,365.9 650.9,365.9 632.7,417.8 579.3,416.2" fill="url(#sg119)"/>
<polygon points="650.1,365.9 699.4,365.9 685.7,419.2 631.9,417.8" fill="url(#sg120)"/>
<polygon points="698.6,365.9 747.9,365.9 738.9,420.2 684.8,419.1" fill="url(#sg121)"/>
<polygon points="602.0,363.7 602.0,366.3 579.7,416.6 579.6,414.0" fill="url(#sg122)"/>
<polygon points="574.1,416.1 627.9,416.1 595.8,505.5 534.9,502.6" fill="url(#sg123)"/>
<polygon points="574.5,413.9 574.5,416.5 535.4,503.1 535.2,500.4" fill="url(#sg124)"/>
<polygon points="169.3,44.2 169.3,34.2 75.2,61.6 75.6,72.9" fill="url(#sg125)"/>
<polygon points="177.1,416.8 169.0,421.8 95.2,486.3 103.5,481.4" fill="url(#sg126)"/>
<polygon points="169.3,422.0 169.3,412.0 95.0,475.9 95.5,486.5" fill="url(#sg127)"/>
<polygon points="275.8,43.8 275.8,33.8 183.2,65.9 183.7,77.4" fill="url(#sg128)"/>
<polygon points="285.6,416.6 276.7,421.6 208.8,492.3 218.1,487.6" fill="url(#sg129)"/>
<polygon points="277.0,421.8 277.0,411.8 208.6,481.9 209.2,492.5" fill="url(#sg130)"/>
<polygon points="436.3,44.3 436.3,34.3 352.6,75.1 352.6,87.2" fill="url(#sg131)"/>
<polygon points="445.6,159.8 435.9,164.8 359.9,226.6 369.8,222.0" fill="url(#sg132)"/>
<polygon points="436.3,165.0 436.3,155.0 359.4,215.8 360.3,226.9" fill="url(#sg133)"/>
<polygon points="445.6,295.0 435.9,300.0 371.7,374.0 381.8,369.5" fill="url(#sg134)"/>
<polygon points="436.3,300.2 436.3,290.2 371.3,363.6 372.1,374.3" fill="url(#sg135)"/>
<polygon points="445.6,364.5 435.9,369.5 377.0,447.7 387.1,443.2" fill="url(#sg136)"/>
<polygon points="436.3,369.7 436.3,359.7 376.6,437.5 377.4,448.0" fill="url(#sg137)"/>
<polygon points="445.6,416.0 435.9,421.0 380.5,501.8 390.7,497.2" fill="url(#sg138)"/>
<polygon points="436.3,421.2 436.3,411.2 380.2,491.6 380.9,502.0" fill="url(#sg139)"/>
<polygon points="640.1,37.0 630.8,42.0 588.0,84.4 599.1,78.4" fill="url(#sg140)"/>
<polygon points="631.2,42.2 631.2,32.2 588.4,72.6 588.4,84.7" fill="url(#sg141)"/>
<polygon points="640.1,110.6 630.8,115.6 588.0,173.5 599.1,167.4" fill="url(#sg142)"/>
<polygon points="631.2,115.8 631.2,105.8 588.4,161.6 588.4,173.7" fill="url(#sg143)"/>
<polygon points="640.1,158.4 630.8,163.4 588.0,231.3 599.1,225.3" fill="url(#sg144)"/>
<polygon points="631.2,163.6 631.2,153.6 588.4,219.5 588.4,231.6" fill="url(#sg145)"/>
<polygon points="640.1,210.4 630.8,215.4 588.0,294.2 599.1,288.2" fill="url(#sg146)"/>
<polygon points="631.2,215.6 631.2,205.6 588.4,282.4 588.4,294.5" fill="url(#sg147)"/>
<polygon points="640.1,244.8 630.8,249.8 588.0,335.8 599.1,329.8" fill="url(#sg148)"/>
<polygon points="631.2,250.0 631.2,240.0 588.4,324.0 588.4,336.1" fill="url(#sg149)"/>
<polygon points="640.1,292.3 630.8,297.3 590.9,386.8 601.3,382.3" fill="url(#sg150)"/>
<polygon points="631.2,297.5 631.2,287.5 590.6,376.7 591.3,387.0" fill="url(#sg151)"/>
<polygon points="640.1,337.2 630.8,342.2 593.9,433.0 604.3,428.4" fill="url(#sg152)"/>
<polygon points="631.2,342.4 631.2,332.4 593.7,423.0 594.4,433.2" fill="url(#sg153)"/>
<polygon points="640.1,415.5 630.8,420.5 598.3,512.9 608.6,508.3" fill="url(#sg154)"/>
<polygon points="631.2,420.7 631.2,410.7 598.2,503.0 598.7,513.2" fill="url(#sg155)"/>
<polygon points="759.8,364.8 751.0,369.8 735.6,466.6 746.0,461.8" fill="url(#sg156)"/>
<polygon points="751.3,370.0 751.3,360.0 735.7,456.8 736.0,466.8" fill="url(#sg157)"/>
</g></g>
<g filter="url(#halo)" style="mix-blend-mode:lighten">
<rect x="15.8" y="199.8" width="165.1" height="37.2" fill="#8c8c8c"/>
<rect x="181.2" y="19.8" width="91.1" height="37.2" fill="#8c8c8c"/>
<rect x="181.2" y="397.8" width="91.2" height="36.7" fill="#8c8c8c"/>
<rect x="450.5" y="19.8" width="126.0" height="37.2" fill="#8c8c8c"/>
<rect x="451.2" y="138.5" width="90.8" height="38.0" fill="#8c8c8c"/>
<rect x="451.2" y="271.5" width="90.8" height="38.0" fill="#8c8c8c"/>
<rect x="451.2" y="346.0" width="153.0" height="36.5" fill="#8c8c8c"/>
<rect x="451.2" y="397.0" width="125.6" height="37.0" fill="#8c8c8c"/>
<rect x="642.5" y="20.5" width="128.2" height="37.0" fill="#8c8c8c"/>
<rect x="643.0" y="93.5" width="116.3" height="36.5" fill="#8c8c8c"/>
<rect x="643.0" y="142.8" width="91.0" height="36.7" fill="#8c8c8c"/>
<rect x="643.0" y="192.0" width="116.5" height="37.5" fill="#8c8c8c"/>
<rect x="643.0" y="232.8" width="91.0" height="36.7" fill="#8c8c8c"/>
<rect x="643.0" y="277.8" width="91.0" height="37.2" fill="#8c8c8c"/>
<rect x="643.0" y="320.8" width="91.0" height="37.0" fill="#8c8c8c"/>
<rect x="643.5" y="384.0" width="91.0" height="71.0" fill="#8c8c8c"/>
<rect x="759.5" y="320.3" width="115.8" height="104.2" fill="#8c8c8c"/>
</g>
<rect x="0" y="410" width="892" height="48" fill="url(#botfade)"/>
</g></mask>
</defs>
<style>.shg polygon{mix-blend-mode:lighten}</style>
<rect width="892" height="514" fill="#5c7e9a" mask="url(#shm)"/>
<g fill="#ffffff">
<rect x="98.15" y="38.30" width="2.10" height="379.70"/>
<rect x="98.20" y="38.25" width="72.30" height="2.10"/>
<rect x="98.20" y="415.95" width="72.30" height="2.10"/>
<rect x="288.80" y="37.85" width="141.20" height="2.10"/>
<rect x="288.80" y="415.75" width="141.20" height="2.10"/>
<rect x="333.25" y="38.00" width="2.10" height="379.80"/>
<rect x="334.30" y="158.25" width="95.70" height="2.10"/>
<rect x="334.30" y="294.45" width="95.70" height="2.10"/>
<rect x="334.30" y="363.45" width="95.70" height="2.10"/>
<rect x="574.00" y="36.70" width="53.50" height="1.80"/>
<rect x="540.00" y="156.70" width="87.50" height="1.80"/>
<rect x="570.60" y="109.00" width="1.80" height="102.00"/>
<rect x="570.50" y="109.10" width="57.00" height="1.80"/>
<rect x="570.50" y="209.10" width="57.00" height="1.80"/>
<rect x="540.00" y="291.50" width="87.50" height="1.80"/>
<rect x="570.60" y="244.00" width="1.80" height="94.00"/>
<rect x="570.50" y="244.10" width="57.00" height="1.80"/>
<rect x="570.50" y="336.10" width="57.00" height="1.80"/>
<rect x="602.00" y="364.10" width="145.50" height="1.80"/>
<rect x="574.50" y="414.30" width="53.00" height="1.80"/>
<polygon points="169.30,34.60 176.80,39.20 169.30,43.80"/>
<polygon points="169.30,412.40 176.80,417.00 169.30,421.60"/>
<polygon points="275.80,34.20 284.30,38.80 275.80,43.40"/>
<polygon points="277.00,412.20 285.30,416.80 277.00,421.40"/>
<polygon points="436.30,34.70 445.20,39.30 436.30,43.90"/>
<polygon points="436.30,155.40 445.20,160.00 436.30,164.60"/>
<polygon points="436.30,290.60 445.20,295.20 436.30,299.80"/>
<polygon points="436.30,360.10 445.20,364.70 436.30,369.30"/>
<polygon points="436.30,411.60 445.20,416.20 436.30,420.80"/>
<polygon points="631.20,32.60 639.70,37.20 631.20,41.80"/>
<polygon points="631.20,106.20 639.70,110.80 631.20,115.40"/>
<polygon points="631.20,154.00 639.70,158.60 631.20,163.20"/>
<polygon points="631.20,206.00 639.70,210.60 631.20,215.20"/>
<polygon points="631.20,240.40 639.70,245.00 631.20,249.60"/>
<polygon points="631.20,287.90 639.70,292.50 631.20,297.10"/>
<polygon points="631.20,332.80 639.70,337.40 631.20,342.00"/>
<polygon points="631.20,411.10 639.70,415.70 631.20,420.30"/>
<polygon points="751.30,360.40 759.50,365.00 751.30,369.60"/>
</g>
<rect x="17.80" y="200.80" width="161.10" height="34.20" fill="#fff"/>
<rect x="17.80" y="200.80" width="161.10" height="5.80" fill="url(#bars)"/>
<rect x="17.80" y="205.50" width="161.10" height="1.1" fill="#4fb2ee" opacity="0.3"/>
<ellipse cx="98.35" cy="206.40" rx="22.0" ry="1.1" fill="url(#flare)" opacity="0.7"/>
<ellipse cx="98.35" cy="206.40" rx="7.0" ry="1.8" fill="url(#flare)"/>
<rect x="183.20" y="20.80" width="87.10" height="34.20" fill="#fff"/>
<rect x="183.20" y="20.80" width="87.10" height="5.80" fill="url(#bars)"/>
<rect x="183.20" y="25.50" width="87.10" height="1.1" fill="#4fb2ee" opacity="0.3"/>
<ellipse cx="226.75" cy="26.40" rx="17.4" ry="1.1" fill="url(#flare)" opacity="0.7"/>
<ellipse cx="226.75" cy="26.40" rx="7.0" ry="1.8" fill="url(#flare)"/>
<rect x="183.20" y="398.80" width="87.20" height="33.70" fill="#fff"/>
<rect x="183.20" y="398.80" width="87.20" height="5.70" fill="url(#bars)"/>
<rect x="183.20" y="403.40" width="87.20" height="1.1" fill="#4fb2ee" opacity="0.3"/>
<ellipse cx="226.80" cy="404.30" rx="17.4" ry="1.1" fill="url(#flare)" opacity="0.7"/>
<ellipse cx="226.80" cy="404.30" rx="7.0" ry="1.8" fill="url(#flare)"/>
<rect x="452.50" y="20.80" width="122.00" height="34.20" fill="#fff"/>
<rect x="452.50" y="20.80" width="122.00" height="5.90" fill="url(#bars)"/>
<rect x="452.50" y="25.60" width="122.00" height="1.1" fill="#4fb2ee" opacity="0.3"/>
<ellipse cx="513.50" cy="26.50" rx="22.0" ry="1.1" fill="url(#flare)" opacity="0.7"/>
<ellipse cx="513.50" cy="26.50" rx="7.1" ry="1.8" fill="url(#flare)"/>
<rect x="453.20" y="139.50" width="86.80" height="35.00" fill="#fff"/>
<rect x="453.20" y="139.50" width="86.80" height="6.20" fill="url(#bars)"/>
<rect x="453.20" y="144.60" width="86.80" height="1.1" fill="#4fb2ee" opacity="0.3"/>
<ellipse cx="496.60" cy="145.50" rx="17.4" ry="1.1" fill="url(#flare)" opacity="0.7"/>
<ellipse cx="496.60" cy="145.50" rx="7.2" ry="1.8" fill="url(#flare)"/>
<rect x="453.20" y="272.50" width="86.80" height="35.00" fill="#fff"/>
<rect x="453.20" y="272.50" width="86.80" height="5.70" fill="url(#bars)"/>
<rect x="453.20" y="277.10" width="86.80" height="1.1" fill="#4fb2ee" opacity="0.3"/>
<ellipse cx="496.60" cy="278.00" rx="17.4" ry="1.1" fill="url(#flare)" opacity="0.7"/>
<ellipse cx="496.60" cy="278.00" rx="7.0" ry="1.8" fill="url(#flare)"/>
<rect x="453.20" y="347.00" width="149.00" height="33.50" fill="#fff"/>
<rect x="453.20" y="347.00" width="149.00" height="5.50" fill="url(#bars)"/>
<rect x="453.20" y="351.40" width="149.00" height="1.1" fill="#4fb2ee" opacity="0.3"/>
<ellipse cx="527.70" cy="352.30" rx="22.0" ry="1.1" fill="url(#flare)" opacity="0.7"/>
<ellipse cx="527.70" cy="352.30" rx="6.9" ry="1.8" fill="url(#flare)"/>
<rect x="453.20" y="398.00" width="121.60" height="34.00" fill="#fff"/>
<rect x="453.20" y="398.00" width="121.60" height="5.60" fill="url(#bars)"/>
<rect x="453.20" y="402.50" width="121.60" height="1.1" fill="#4fb2ee" opacity="0.3"/>
<ellipse cx="514.00" cy="403.40" rx="22.0" ry="1.1" fill="url(#flare)" opacity="0.7"/>
<ellipse cx="514.00" cy="403.40" rx="7.0" ry="1.8" fill="url(#flare)"/>
<rect x="644.50" y="21.50" width="124.20" height="34.00" fill="#fff"/>
<rect x="644.50" y="21.50" width="124.20" height="5.50" fill="url(#bars)"/>
<rect x="644.50" y="25.90" width="124.20" height="1.1" fill="#4fb2ee" opacity="0.3"/>
<ellipse cx="706.60" cy="26.80" rx="22.0" ry="1.1" fill="url(#flare)" opacity="0.7"/>
<ellipse cx="706.60" cy="26.80" rx="6.9" ry="1.8" fill="url(#flare)"/>
<rect x="645.00" y="94.50" width="112.30" height="33.50" fill="#fff"/>
<rect x="645.00" y="94.50" width="112.30" height="5.50" fill="url(#bars)"/>
<rect x="645.00" y="98.90" width="112.30" height="1.1" fill="#4fb2ee" opacity="0.3"/>
<ellipse cx="701.15" cy="99.80" rx="22.0" ry="1.1" fill="url(#flare)" opacity="0.7"/>
<ellipse cx="701.15" cy="99.80" rx="6.9" ry="1.8" fill="url(#flare)"/>
<rect x="645.00" y="143.80" width="87.00" height="33.70" fill="#fff"/>
<rect x="645.00" y="143.80" width="87.00" height="5.50" fill="url(#bars)"/>
<rect x="645.00" y="148.20" width="87.00" height="1.1" fill="#4fb2ee" opacity="0.3"/>
<ellipse cx="688.50" cy="149.10" rx="17.4" ry="1.1" fill="url(#flare)" opacity="0.7"/>
<ellipse cx="688.50" cy="149.10" rx="6.9" ry="1.8" fill="url(#flare)"/>
<rect x="645.00" y="193.00" width="112.50" height="34.50" fill="#fff"/>
<rect x="645.00" y="193.00" width="112.50" height="5.80" fill="url(#bars)"/>
<rect x="645.00" y="197.70" width="112.50" height="1.1" fill="#4fb2ee" opacity="0.3"/>
<ellipse cx="701.25" cy="198.60" rx="22.0" ry="1.1" fill="url(#flare)" opacity="0.7"/>
<ellipse cx="701.25" cy="198.60" rx="7.0" ry="1.8" fill="url(#flare)"/>
<rect x="645.00" y="233.80" width="87.00" height="33.70" fill="#fff"/>
<rect x="645.00" y="233.80" width="87.00" height="5.50" fill="url(#bars)"/>
<rect x="645.00" y="238.20" width="87.00" height="1.1" fill="#4fb2ee" opacity="0.3"/>
<ellipse cx="688.50" cy="239.10" rx="17.4" ry="1.1" fill="url(#flare)" opacity="0.7"/>
<ellipse cx="688.50" cy="239.10" rx="6.9" ry="1.8" fill="url(#flare)"/>
<rect x="645.00" y="278.80" width="87.00" height="34.20" fill="#fff"/>
<rect x="645.00" y="278.80" width="87.00" height="5.50" fill="url(#bars)"/>
<rect x="645.00" y="283.20" width="87.00" height="1.1" fill="#4fb2ee" opacity="0.3"/>
<ellipse cx="688.50" cy="284.10" rx="17.4" ry="1.1" fill="url(#flare)" opacity="0.7"/>
<ellipse cx="688.50" cy="284.10" rx="6.9" ry="1.8" fill="url(#flare)"/>
<rect x="645.00" y="321.80" width="87.00" height="34.00" fill="#fff"/>
<rect x="645.00" y="321.80" width="87.00" height="5.20" fill="url(#bars)"/>
<rect x="645.00" y="325.90" width="87.00" height="1.1" fill="#4fb2ee" opacity="0.3"/>
<ellipse cx="688.50" cy="326.80" rx="17.4" ry="1.1" fill="url(#flare)" opacity="0.7"/>
<ellipse cx="688.50" cy="326.80" rx="6.8" ry="1.8" fill="url(#flare)"/>
<rect x="645.50" y="385.00" width="87.00" height="68.00" fill="#fff"/>
<rect x="645.50" y="385.00" width="87.00" height="12.00" fill="url(#bar)"/>
<rect x="645.50" y="385.00" width="87.00" height="0.9" fill="#cfe3f2" opacity="0.55"/>
<rect x="645.50" y="395.90" width="87.00" height="1.1" fill="#4fb2ee" opacity="0.6"/>
<ellipse cx="689.00" cy="396.80" rx="17.4" ry="1.1" fill="url(#flare)" opacity="0.7"/>
<ellipse cx="689.00" cy="396.80" rx="9.2" ry="2.4" fill="url(#flare)"/>
<rect x="761.50" y="321.30" width="111.80" height="101.20" fill="#fff"/>
<rect x="761.50" y="321.30" width="111.80" height="18.00" fill="url(#bar)"/>
<rect x="761.50" y="321.30" width="111.80" height="0.9" fill="#cfe3f2" opacity="0.55"/>
<rect x="761.50" y="338.20" width="111.80" height="1.1" fill="#4fb2ee" opacity="0.6"/>
<ellipse cx="817.40" cy="339.10" rx="22.0" ry="1.1" fill="url(#flare)" opacity="0.7"/>
<ellipse cx="817.40" cy="339.10" rx="11.3" ry="3.6" fill="url(#flare)"/>
<g fill="#1d3e62" font-family="&quot;Liberation Sans&quot;, &quot;Noto Sans CJK SC&quot;, sans-serif" font-size="18.6">
<text x="184.62" y="46.62" textLength="80.8" lengthAdjust="spacing">DNA药物</text>
<text x="186.12" y="425.32" textLength="79.4" lengthAdjust="spacing">RNA药物</text>
<text x="453.78" y="47.23" textLength="116.9" lengthAdjust="spacing">反义核酸技术</text>
<text x="455.42" y="167.23" textLength="80.2" lengthAdjust="spacing">RNA干扰</text>
<text x="456.09" y="299.26" textLength="78.4" lengthAdjust="spacing">编码蛋白</text>
<text x="455.50" y="371.99" textLength="137.2" lengthAdjust="spacing">调控蛋白质活性</text>
<text x="454.20" y="424.39" textLength="116.9" lengthAdjust="spacing">调控基因表达</text>
<text x="648.28" y="47.76" textLength="117.8" lengthAdjust="spacing">反义寡核苷酸</text>
<text x="649.90" y="119.62" textLength="99.0" lengthAdjust="spacing">小干扰RNA</text>
<text x="649.90" y="168.94" textLength="60.2" lengthAdjust="spacing">小RNA</text>
<text x="648.11" y="220.48" textLength="99.0" lengthAdjust="spacing">短发卡RNA</text>
<text x="646.90" y="259.80" textLength="78.7" lengthAdjust="spacing">信使RNA</text>
<text x="645.63" y="305.61" textLength="81.5" lengthAdjust="spacing">质粒DNA</text>
<text x="655.59" y="348.06" textLength="58.7" lengthAdjust="spacing">适配体</text>
<text x="648.89" y="420.85" textLength="78.0" lengthAdjust="spacing">核酶及脱</text>
<text x="648.98" y="441.50" textLength="58.1" lengthAdjust="spacing">氧核酶</text>
<text x="766.63" y="365.37" textLength="97.2" lengthAdjust="spacing">基因编辑工</text>
<text x="766.26" y="388.95" textLength="105.6" lengthAdjust="spacing">具CRISPR的</text>
<text x="765.36" y="411.83" textLength="80.7" lengthAdjust="spacing">引导RNA</text>
</g>
<g fill="#1d3e62" font-family="&quot;Liberation Sans&quot;, &quot;Noto Sans CJK SC&quot;, sans-serif" font-size="22.3" font-weight="bold">
<text x="27.70" y="228.17" textLength="140.4" lengthAdjust="spacing">核酸药物分类</text>
</g>
<path d="M646.7 459.5c1.3-1.3 3.5-1.8 6-1.3" fill="none" stroke="#0c1a22" stroke-width="1.2" stroke-linecap="round"/>
</svg>
<p class="node" id="root" style="left:18px;top:206px;width:161px;height:29px;padding-left:10px;box-sizing:border-box"><span>核酸药物分类</span></p>
<p class="node" id="dna" style="left:183px;top:28px;width:87px;height:27px;padding-left:3px;box-sizing:border-box"><span>DNA药物</span></p>
<p class="node" id="rna" style="left:183px;top:406px;width:87px;height:26px;padding-left:5px;box-sizing:border-box"><span>RNA药物</span></p>
<p class="node" id="antisense" style="left:452px;top:28px;width:122px;height:26px;padding-left:2px;box-sizing:border-box"><span>反义核酸技术</span></p>
<p class="node" id="rnai" style="left:453px;top:148px;width:87px;height:26px;padding-left:4px;box-sizing:border-box"><span>RNA干扰</span></p>
<p class="node" id="coding" style="left:453px;top:281px;width:87px;height:27px;padding-left:4px;box-sizing:border-box"><span>编码蛋白</span></p>
<p class="node" id="regprot" style="left:453px;top:353px;width:149px;height:27px;padding-left:3px;box-sizing:border-box"><span>调控蛋白质活性</span></p>
<p class="node" id="reggene" style="left:453px;top:405px;width:122px;height:27px;padding-left:2px;box-sizing:border-box"><span>调控基因表达</span></p>
<p class="node" id="aso" style="left:644px;top:29px;width:124px;height:26px;padding-left:5px;box-sizing:border-box"><span>反义寡核苷酸</span></p>
<p class="node" id="sirna" style="left:645px;top:101px;width:112px;height:27px;padding-left:6px;box-sizing:border-box"><span>小干扰RNA</span></p>
<p class="node" id="mirna" style="left:645px;top:150px;width:87px;height:27px;padding-left:6px;box-sizing:border-box"><span>小RNA</span></p>
<p class="node" id="shrna" style="left:645px;top:202px;width:112px;height:26px;padding-left:4px;box-sizing:border-box"><span>短发卡RNA</span></p>
<p class="node" id="mrna" style="left:645px;top:241px;width:87px;height:26px;padding-left:2px;box-sizing:border-box"><span>信使RNA</span></p>
<p class="node" id="plasmid" style="left:645px;top:286px;width:87px;height:26px;padding-left:1px;box-sizing:border-box"><span>质粒DNA</span></p>
<p class="node" id="aptamer" style="left:645px;top:330px;width:87px;height:26px;padding-left:11px;box-sizing:border-box"><span>适配体</span></p>
<p class="node" id="ribozyme" style="left:646px;top:402px;width:87px;height:51px;padding-left:4px;box-sizing:border-box"><span>核酶及脱</span><span>氧核酶</span></p>
<p class="node" id="crispr" style="left:762px;top:347px;width:112px;height:76px;padding-left:6px;box-sizing:border-box"><span>基因编辑工</span><span>具CRISPR的</span><span>引导RNA</span></p>
</body></html>
